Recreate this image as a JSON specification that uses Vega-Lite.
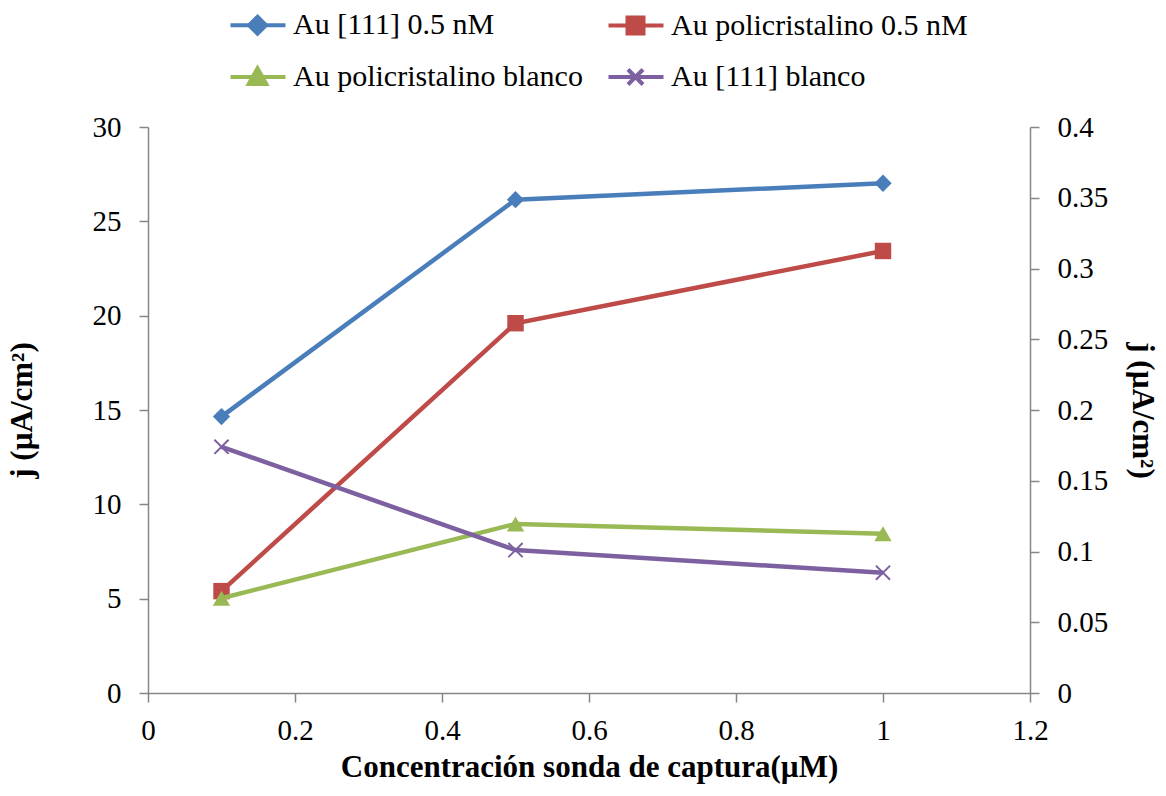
{
  "$schema": "https://vega.github.io/schema/vega-lite/v6.json",
  "width": 882,
  "height": 566,
  "autosize": {"type": "none"},
  "padding": {"left": 148, "top": 127, "right": 136, "bottom": 103},
  "background": "white",
  "config": {
    "font": "Liberation Serif",
    "view": {"stroke": null},
    "style": {
      "guide-label": {"font": "Liberation Serif"},
      "guide-title": {"font": "Liberation Serif"}
    },
    "axis": {
      "grid": false,
      "labelFlush": false,
      "labelOverlap": false,
      "domainColor": "#868686",
      "tickColor": "#868686",
      "domainWidth": 1.5,
      "tickWidth": 1.5,
      "tickSize": 9,
      "labelFont": "Liberation Serif",
      "labelFontSize": 29,
      "labelColor": "black",
      "titleFont": "Liberation Serif",
      "titleFontSize": 31,
      "titleFontWeight": "bold",
      "titleColor": "black"
    },
    "legend": {
      "labelFont": "Liberation Serif",
      "labelFontSize": 30,
      "labelColor": "black",
      "labelLimit": 0
    }
  },
  "data": {
    "values": [
      {"x": 0.1, "j": 14.65, "series": "Au [111] 0.5 nM", "axis": "left"},
      {"x": 0.5, "j": 26.15, "series": "Au [111] 0.5 nM", "axis": "left"},
      {"x": 1.0, "j": 27.02, "series": "Au [111] 0.5 nM", "axis": "left"},
      {"x": 0.1, "j": 5.4, "series": "Au policristalino 0.5 nM", "axis": "left"},
      {"x": 0.5, "j": 19.6, "series": "Au policristalino 0.5 nM", "axis": "left"},
      {"x": 1.0, "j": 23.43, "series": "Au policristalino 0.5 nM", "axis": "left"},
      {"x": 0.1, "j": 0.067, "series": "Au policristalino blanco", "axis": "right"},
      {"x": 0.5, "j": 0.1195, "series": "Au policristalino blanco", "axis": "right"},
      {"x": 1.0, "j": 0.1125, "series": "Au policristalino blanco", "axis": "right"},
      {"x": 0.1, "j": 0.174, "series": "Au [111] blanco", "axis": "right"},
      {"x": 0.5, "j": 0.101, "series": "Au [111] blanco", "axis": "right"},
      {"x": 1.0, "j": 0.085, "series": "Au [111] blanco", "axis": "right"}
    ]
  },
  "encoding": {
    "x": {
      "field": "x",
      "type": "quantitative",
      "scale": {"domain": [0, 1.2], "nice": false, "zero": false},
      "axis": {
        "values": [0, 0.2, 0.4, 0.6, 0.8, 1, 1.2],
        "format": "~g",
        "labelFont": "Liberation Serif",
        "title": "Concentración sonda de captura(µM)",
        "labelPadding": 14,
        "titlePadding": 7
      }
    },
    "color": {
      "field": "series",
      "type": "nominal",
      "scale": {
        "domain": ["Au [111] 0.5 nM", "Au policristalino blanco", "Au policristalino 0.5 nM", "Au [111] blanco"],
        "range": ["#4A7EBB", "#98B954", "#BE4B48", "#7D60A0"]
      },
      "legend": {
        "title": null,
        "orient": "none",
        "legendX": 80,
        "legendY": -117,
        "columns": 2,
        "columnPadding": 17,
        "rowPadding": 18,
        "symbolSize": 625,
        "labelOffset": 35,
        "encode": {
          "symbols": {
            "update": {
              "shape": {"signal": "datum.value === 'Au [111] 0.5 nM' ? 'M-1,0L3.4,0M1.16,-0.68L1.84,0L1.16,0.68L0.48,0Z' : datum.value === 'Au policristalino 0.5 nM' ? 'M-1,0L3.4,0M0.52,-0.64L1.8,-0.64L1.8,0.64L0.52,0.64Z' : datum.value === 'Au policristalino blanco' ? 'M-1,0L3.4,0M1.16,-0.7L1.86,0.55L0.46,0.55Z' : 'M-1,0L3.4,0M0.56,-0.6L1.76,0.6M0.56,0.6L1.76,-0.6'"},
              "size": {"value": 625},
              "strokeWidth": {"value": 4},
              "fill": {"scale": "color", "field": "value"},
              "stroke": {"scale": "color", "field": "value"},
              "opacity": {"value": 1},
              "fillOpacity": {"value": 1},
              "strokeOpacity": {"value": 1}
            }
          }
        }
      }
    }
  },
  "layer": [
    {
      "transform": [{"filter": "datum.axis === 'left'"}],
      "encoding": {
        "y": {
          "field": "j",
          "type": "quantitative",
          "scale": {"domain": [0, 30], "nice": false},
          "axis": {
            "orient": "left",
            "values": [0, 5, 10, 15, 20, 25, 30],
            "labelFont": "Liberation Serif",
            "title": "j (µA/cm²)",
            "labelPadding": 18,
            "titlePadding": 54
          }
        }
      },
      "layer": [
        {"mark": {"type": "line", "strokeWidth": 4.5}},
        {
          "transform": [{"filter": "datum.series === 'Au [111] 0.5 nM'"}],
          "mark": {"type": "point", "shape": "diamond", "filled": true, "size": 300, "opacity": 1}
        },
        {
          "transform": [{"filter": "datum.series === 'Au policristalino 0.5 nM'"}],
          "mark": {"type": "point", "shape": "square", "filled": true, "size": 270, "opacity": 1}
        }
      ]
    },
    {
      "transform": [{"filter": "datum.axis === 'right'"}],
      "encoding": {
        "y": {
          "field": "j",
          "type": "quantitative",
          "scale": {"domain": [0, 0.4], "nice": false},
          "axis": {
            "orient": "right",
            "values": [0, 0.05, 0.1, 0.15, 0.2, 0.25, 0.3, 0.35, 0.4],
            "format": "~g",
            "labelFont": "Liberation Serif",
            "title": "j (µA/cm²)",
            "labelPadding": 18,
            "titlePadding": 18
          }
        }
      },
      "layer": [
        {"mark": {"type": "line", "strokeWidth": 4.5}},
        {
          "transform": [{"filter": "datum.series === 'Au policristalino blanco'"}],
          "mark": {"type": "point", "shape": "triangle-up", "filled": true, "size": 300, "opacity": 1}
        },
        {
          "transform": [{"filter": "datum.series === 'Au [111] blanco'"}],
          "mark": {"type": "point", "shape": "M-1,-1L1,1M-1,1L1,-1", "filled": false, "size": 200, "opacity": 1, "strokeWidth": 2}
        }
      ]
    }
  ],
  "resolve": {"scale": {"y": "independent"}}
}
